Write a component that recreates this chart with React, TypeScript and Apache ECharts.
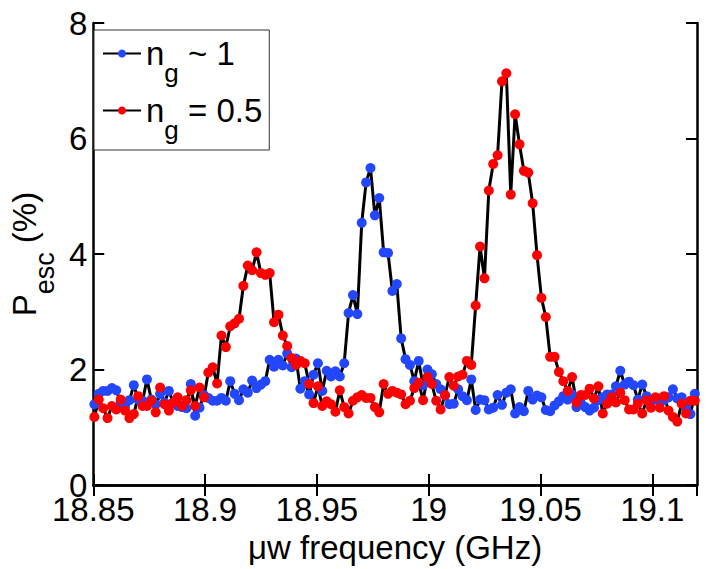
import React, { useEffect, useRef } from "react";
import * as echarts from "echarts";

// Frequency sweep (GHz): uniform grid start and step
const FREQ_START = 18.8505;
const FREQ_STEP = 0.00196;

// P_esc (%) for n_g ~ 1 (blue markers)
const BLUE = [
  1.40, 1.58, 1.63, 1.63, 1.68, 1.64, 1.43, 1.37, 1.47, 1.73,
  1.48, 1.46, 1.83, 1.48, 1.40, 1.58, 1.43, 1.63, 1.43, 1.37,
  1.35, 1.33, 1.75, 1.20, 1.34, 1.56, 1.51, 1.46, 1.46, 1.51,
  1.46, 1.80, 1.58, 1.47, 1.66, 1.60, 1.81, 1.68, 1.74, 1.80,
  2.17, 2.05, 2.17, 2.07, 2.28, 2.04, 2.19, 1.67, 1.80, 1.57,
  1.91, 2.11, 1.63, 1.98, 1.88, 1.97, 1.88, 2.11, 2.98, 3.29,
  2.96, 4.54, 5.24, 5.49, 4.67, 4.97, 4.03, 4.02, 3.36, 3.48,
  2.54, 2.18, 2.08, 1.80, 2.15, 1.73, 2.00, 1.92, 1.75, 1.66,
  1.55, 1.40, 1.41, 1.66, 1.54, 1.47, 1.83, 1.30, 1.48, 1.47,
  1.31, 1.34, 1.56, 1.39, 1.60, 1.66, 1.24, 1.35, 1.28, 1.63,
  1.48, 1.55, 1.52, 1.30, 1.28, 1.38, 1.45, 1.54, 1.48, 1.57,
  1.35, 1.42, 1.35, 1.29, 1.34, 1.47, 1.52, 1.57, 1.57, 1.71,
  1.98, 1.74, 1.79, 1.73, 1.48, 1.74, 1.54, 1.46, 1.48, 1.50,
  1.47, 1.52, 1.66, 1.50, 1.52, 1.34, 1.23, 1.58,
];

// P_esc (%) for n_g = 0.5 (red markers)
const RED = [
  1.18, 1.48, 1.33, 1.16, 1.37, 1.31, 1.48, 1.29, 1.16, 1.23,
  1.54, 1.37, 1.37, 1.46, 1.26, 1.69, 1.40, 1.29, 1.43, 1.52,
  1.37, 1.47, 1.64, 1.37, 1.69, 1.52, 1.95, 2.04, 1.76, 2.59,
  2.39, 2.75, 2.80, 2.88, 3.45, 3.80, 3.72, 4.03, 3.67, 3.64,
  3.67, 2.82, 2.95, 2.59, 2.41, 2.20, 2.08, 2.15, 2.11, 1.75,
  1.42, 1.71, 1.37, 1.45, 1.40, 1.27, 1.64, 1.35, 1.24, 1.46,
  1.52, 1.56, 1.51, 1.51, 1.35, 1.26, 1.75, 1.58, 1.63, 1.60,
  1.57, 1.40, 1.46, 1.68, 1.77, 1.47, 1.87, 1.75, 1.46, 1.31,
  1.56, 1.87, 1.72, 1.88, 1.91, 2.15, 2.08, 3.11, 4.13, 3.58,
  5.10, 5.56, 5.71, 6.99, 7.13, 5.03, 6.42, 5.90, 5.44, 5.41,
  4.88, 3.98, 3.24, 2.91, 2.22, 2.22, 1.96, 1.80, 1.63, 1.87,
  1.43, 1.56, 1.56, 1.67, 1.50, 1.71, 1.24, 1.41, 1.52, 1.43,
  1.60, 1.47, 1.31, 1.31, 1.41, 1.24, 1.47, 1.34, 1.52, 1.34,
  1.54, 1.29, 1.18, 1.10, 1.41, 1.24, 1.46, 1.46,
];

const X_MIN = 18.85;
const X_MAX = 19.12;
const X_STEP = 0.05;
const Y_MIN = 0;
const Y_MAX = 8;
const Y_STEP = 2;

const SERIES_NAMES = ["n_g ~ 1", "n_g = 0.5"];
const LEGEND_RICH_TEXT: Record<string, string> = {
  "n_g ~ 1": "{n|n}{g|g}{n| ~ 1}",
  "n_g = 0.5": "{n|n}{g|g}{n| = 0.5}",
};

const FONT = "'Liberation Sans', Arial, Helvetica, sans-serif";

export default function App() {
  const ref = useRef<HTMLDivElement>(null);

  useEffect(() => {
    if (!ref.current) return;
    const chart = echarts.init(ref.current, null, { renderer: "svg" });
    const freqs = BLUE.map((_, i) => +(FREQ_START + i * FREQ_STEP).toFixed(5));
    const blueData = BLUE.map((v, i) => [freqs[i], v]);
    const redData = RED.map((v, i) => [freqs[i], v]);

    const tickStyle = { show: true, inside: true, length: 11, lineStyle: { color: "#000", width: 2 } };
    const lineStyleAxis = { show: true, lineStyle: { color: "#000", width: 2.5 } };
    const fmt = (v: number) => String(parseFloat(v.toFixed(3)));

    chart.setOption({
      animation: false,
      backgroundColor: "#fff",
      textStyle: { fontFamily: FONT },
      grid: { left: 88, top: 23, right: 9, bottom: 77, containLabel: false },
      legend: {
        show: true,
        orient: "vertical",
        left: 94,
        top: 30,
        padding: [7, 7, 7, 8],
        itemGap: 8,
        itemWidth: 38,
        itemHeight: 10,
        backgroundColor: "#fff",
        borderColor: "#333",
        borderWidth: 1,
        borderRadius: 0,
        data: SERIES_NAMES,
        formatter: (name: string) => LEGEND_RICH_TEXT[name] || name,
        textStyle: {
          color: "#000",
          fontFamily: FONT,
          rich: {
            n: { fontSize: 33, lineHeight: 33, verticalAlign: "top", fontFamily: FONT, color: "#000" },
            g: { fontSize: 26, lineHeight: 26, verticalAlign: "top", padding: [23, 0, 0, 0], fontFamily: FONT, color: "#000" },
          },
        },
      },
      xAxis: [
        {
          type: "value",
          min: X_MIN,
          max: X_MAX,
          interval: X_STEP,
          position: "bottom",
          name: "μw frequency (GHz)",
          nameLocation: "middle",
          nameGap: 40,
          nameTextStyle: { fontSize: 33, color: "#000", fontFamily: FONT },
          axisLine: lineStyleAxis,
          axisTick: tickStyle,
          splitLine: { show: false },
          axisLabel: {
            fontSize: 33,
            color: "#000",
            fontFamily: FONT,
            margin: 8,
            showMaxLabel: false,
            formatter: fmt,
          },
        },
        {
          type: "value",
          min: X_MIN,
          max: X_MAX,
          interval: X_STEP,
          position: "top",
          axisLine: lineStyleAxis,
          axisTick: tickStyle,
          splitLine: { show: false },
          axisLabel: { show: false },
        },
      ],
      yAxis: [
        {
          type: "value",
          min: Y_MIN,
          max: Y_MAX,
          interval: Y_STEP,
          position: "left",
          name: "{p|P}{s|esc}{p| (%)}",
          nameLocation: "middle",
          nameGap: 22,
          nameTextStyle: {
            color: "#000",
            fontFamily: FONT,
            rich: {
              p: { fontSize: 33, lineHeight: 33, verticalAlign: "top", fontFamily: FONT, color: "#000" },
              s: { fontSize: 27, lineHeight: 27, verticalAlign: "top", padding: [23, 0, 0, 0], fontFamily: FONT, color: "#000" },
            },
          },
          axisLine: lineStyleAxis,
          axisTick: tickStyle,
          splitLine: { show: false },
          axisLabel: { fontSize: 33, color: "#000", fontFamily: FONT, margin: 6 },
        },
        {
          type: "value",
          min: Y_MIN,
          max: Y_MAX,
          interval: Y_STEP,
          position: "right",
          axisLine: lineStyleAxis,
          axisTick: tickStyle,
          splitLine: { show: false },
          axisLabel: { show: false },
        },
      ],
      series: [
        {
          name: SERIES_NAMES[0],
          type: "line",
          xAxisIndex: 0,
          yAxisIndex: 0,
          data: blueData,
          symbol: "circle",
          symbolSize: 10,
          showAllSymbol: true,
          lineStyle: { color: "#000", width: 3 },
          itemStyle: { color: "#2346ff" },
        },
        {
          name: SERIES_NAMES[1],
          type: "line",
          xAxisIndex: 0,
          yAxisIndex: 0,
          data: redData,
          symbol: "circle",
          symbolSize: 10,
          showAllSymbol: true,
          lineStyle: { color: "#000", width: 3 },
          itemStyle: { color: "#ff0000" },
        },
      ],
    });
    return () => chart.dispose();
  }, []);

  return (
    <div
      ref={ref}
      style={{ position: "fixed", left: 0, top: 0, width: 706, height: 569, background: "#fff" }}
    />
  );
}
